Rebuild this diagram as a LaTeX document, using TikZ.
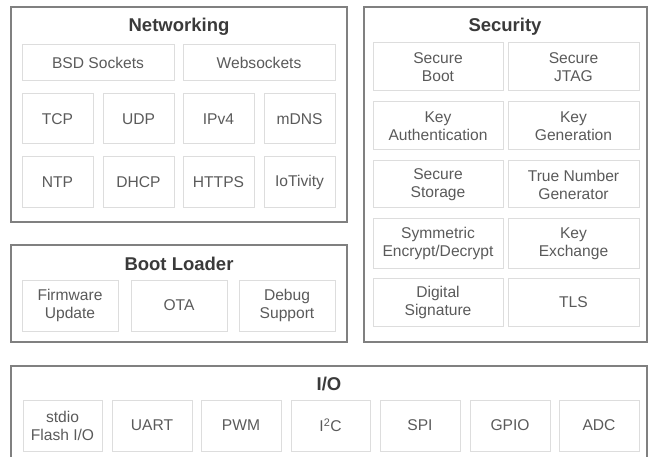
\documentclass[tikz,border=0pt]{standalone}
\usepackage{fontspec}
\setmainfont{Liberation Sans}
\definecolor{outerc}{HTML}{808080}
\definecolor{innerc}{HTML}{DDDDDD}
\definecolor{txtc}{HTML}{5A5A5A}
\definecolor{titc}{HTML}{3A3A3A}
\newcommand\bx[6]{\node[inbox, minimum width={(#4-#2)*1pt}, minimum height={(#5-#3)*1pt}] (#1) at ({(#2+#4)/2},{(#3+#5)/2}) {#6};}
\newcommand\ob[5]{\node[outbox, minimum width={(#4-#2)*1pt}, minimum height={(#5-#3)*1pt}] (#1) at ({(#2+#4)/2},{(#3+#5)/2}) {};}
\begin{document}
\begin{tikzpicture}[x=1pt,y=-1pt,
  inbox/.style={draw=innerc, line width=1pt, inner sep=0pt, align=center, text=txtc, font=\fontsize{15.6}{18}\selectfont},
  outbox/.style={draw=outerc, line width=1.1pt, inner sep=0pt},
  title/.style={text=titc, font=\bfseries\fontsize{18.5}{20}\selectfont, inner sep=0pt, anchor=base}]
\useasboundingbox (0,0) rectangle (653,457);
% Networking
\ob{net}{11}{7}{347}{222}
\node[title] (nett) at (179,32) {Networking};
\bx{bsd}{22}{45}{174}{81}{BSD Sockets}
\bx{ws}{183}{45}{335}{81}{Websockets}
\bx{tcp}{22}{94}{93}{144}{TCP}
\bx{udp}{103}{94}{174}{144}{UDP}
\bx{ipv}{183}{94}{254}{144}{IPv4}
\bx{mdns}{264}{94}{335}{144}{mDNS}
\bx{ntp}{22}{157}{93}{208}{NTP}
\bx{dhcp}{103}{157}{174}{208}{DHCP}
\bx{https}{183}{157}{254}{208}{HTTPS}
\bx{iot}{264}{157}{335}{208}{IoTivity}
% Security
\ob{sec}{364}{7}{647}{342}
\node[title] (sect) at (505,32) {Security};
\bx{sboot}{373}{43}{503}{91}{Secure\\Boot}
\bx{sjtag}{508}{43}{639}{91}{Secure\\JTAG}
\bx{kauth}{373}{102}{503}{150}{Key\\Authentication}
\bx{kgen}{508}{102}{639}{150}{Key\\Generation}
\bx{sstor}{373}{161}{503}{208}{Secure\\Storage}
\bx{trng}{508}{161}{639}{208}{True Number\\Generator}
\bx{sym}{373}{219}{503}{268}{Symmetric\\Encrypt/Decrypt}
\bx{kex}{508}{219}{639}{268}{Key\\Exchange}
\bx{dsig}{373}{278}{503}{326}{Digital\\Signature}
\bx{tls}{508}{278}{639}{326}{TLS}
% Boot Loader
\ob{boot}{11}{245}{347}{342}
\node[title] (boott) at (179,270.5) {Boot Loader};
\bx{fw}{22}{280}{118}{331}{Firmware\\Update}
\bx{ota}{131}{280}{227}{331}{OTA}
\bx{dbg}{239}{280}{335}{331}{Debug\\Support}
% I/O
\ob{io}{11}{366}{647}{462}
\node[title] (iot) at (329,390) {I/O};
\bx{stdio}{23}{400}{102}{451}{stdio\\Flash I/O}
\bx{uart}{112}{400}{192}{451}{UART}
\bx{pwm}{201}{400}{281}{451}{PWM}
\bx{iic}{291}{400}{370}{451}{I\textsuperscript{2}C}
\bx{spi}{380}{400}{460}{451}{SPI}
\bx{gpio}{470}{400}{550}{451}{GPIO}
\bx{adc}{559}{400}{639}{451}{ADC}
\end{tikzpicture}
\end{document}
